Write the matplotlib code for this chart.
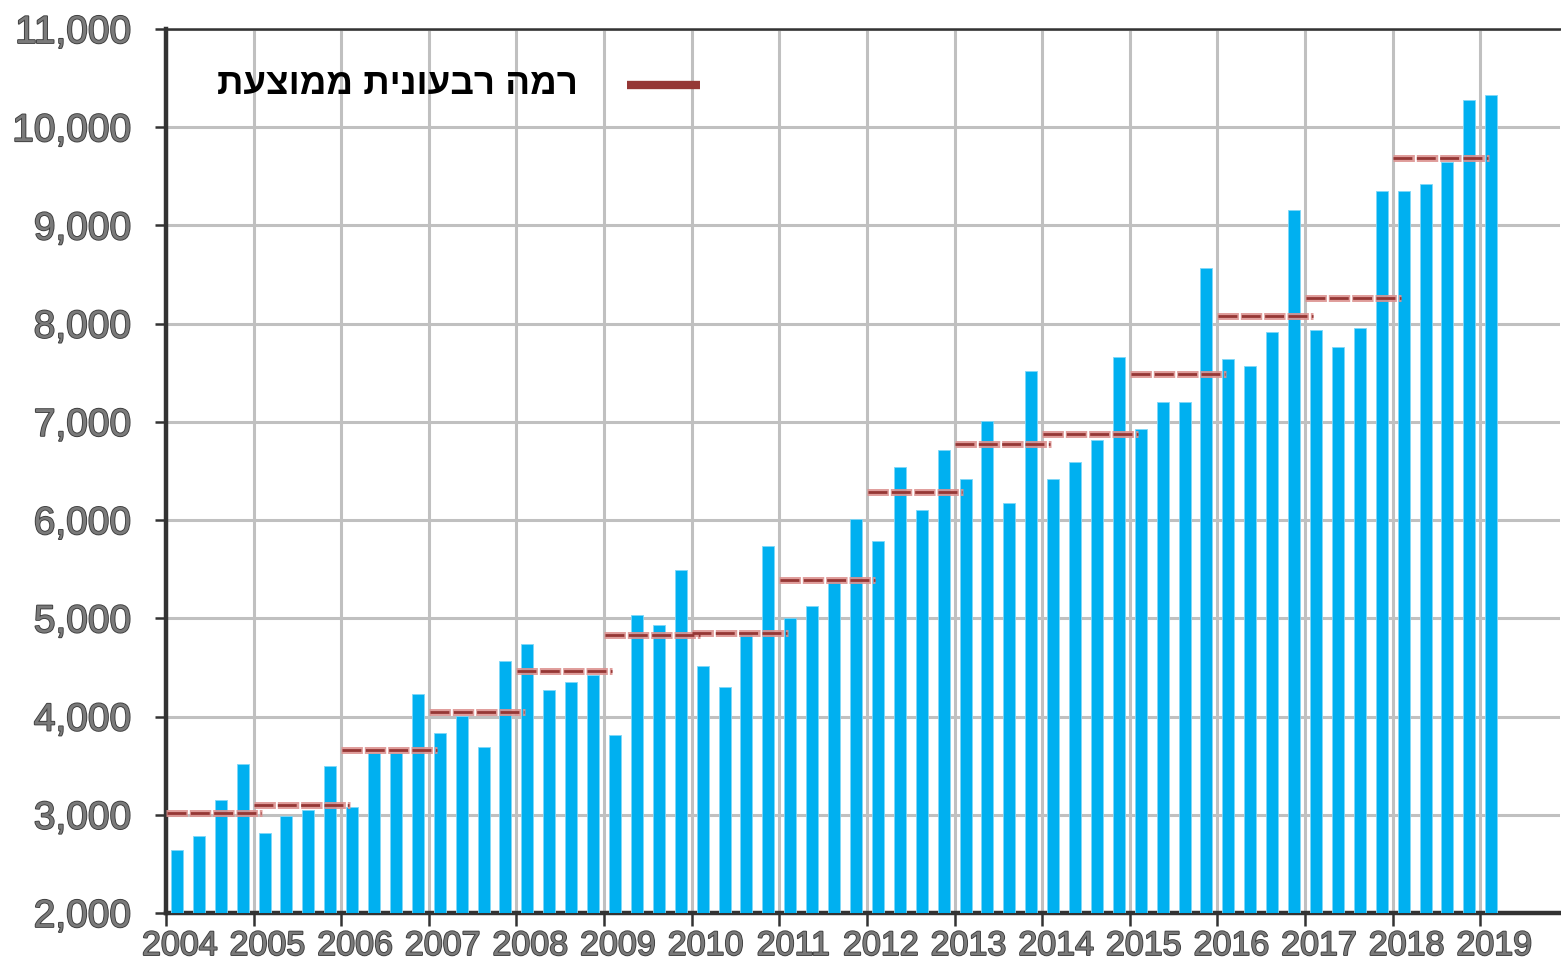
import numpy as np
import matplotlib
matplotlib.use("Agg")
import matplotlib.pyplot as plt
import matplotlib.patheffects as pe
import matplotlib.transforms as mtransforms
from matplotlib.ticker import FuncFormatter

plt.rcParams["font.family"] = ["Liberation Sans", "DejaVu Sans"]
plt.rcParams["lines.scale_dashes"] = False

# quarterly values, 2004Q1 .. 2019Q1
quarterly = [
    2641, 2786, 3154, 3520,   # 2004
    2811, 2985, 3052, 3494,   # 2005
    3079, 3630, 3630, 4227,   # 2006
    3836, 4009, 3686, 4566,   # 2007
    4736, 4273, 4348, 4424,   # 2008
    3813, 5032, 4933, 5496,   # 2009
    4519, 4301, 4840, 5737,   # 2010
    5008, 5130, 5380, 6008,   # 2011
    5788, 6545, 6104, 6715,   # 2012
    6423, 7010, 6178, 7519,   # 2013
    6423, 6593, 6813, 7665,   # 2014
    6932, 7199, 7199, 8568,   # 2015
    7641, 7566, 7910, 9155,   # 2016
    7937, 7764, 7960, 9352,   # 2017
    9352, 9424, 9644, 10279,  # 2018
    10328,                    # 2019
]
avg_years = list(range(2004, 2019))
avg_level = [3021, 3097, 3656, 4047, 4460, 4827, 4851, 5391,
             6290, 6776, 6878, 7486, 8074, 8265, 9682]
year_ticks = list(range(2004, 2020))
legend_label = "רמה רבעונית ממוצעת"

bar_color = "#00b0f0"
avg_color = "#953735"
txt_color = "#7a7a7a"
stroke = [pe.withStroke(linewidth=1.3, foreground="#3c3c3c")]

fig = plt.figure(figsize=(15.61, 9.6), dpi=100)
ax = fig.add_axes([0.1063, 0.049, 0.8931, 0.9208])

xpos = [2004 + (i // 4) + (i % 4 + 0.5) * 0.25 for i in range(len(quarterly))]
ax.bar(xpos, [v - 2000 for v in quarterly], bottom=2000, width=0.137,
       color=bar_color, edgecolor="#7fd7f7", linewidth=0.6, zorder=3)

for yr, lvl in zip(avg_years, avg_level):
    ax.plot([yr, yr + 1.096], [lvl, lvl], color="#dc9290", lw=5.0,
            linestyle=(0, (15.4, 1.4)), dash_capstyle="butt",
            alpha=0.9, zorder=4)
    ax.plot([yr + 0.008, yr + 1.09], [lvl, lvl], color=avg_color, lw=2.0,
            linestyle=(0, (13.6, 3.2)), dash_capstyle="butt", zorder=5)

ax.set_xlim(2004, 2019.91)
ax.set_ylim(2000, 11000)
ax.set_xticks(year_ticks)
ax.set_xticklabels([str(y) for y in year_ticks])
ax.set_yticks(range(2000, 11001, 1000))
ax.yaxis.set_major_formatter(FuncFormatter(lambda v, p: f"{int(v):,}"))

ax.grid(True, color="#c0c0c0", linewidth=2.2, zorder=0)
ax.set_axisbelow(True)

for side in ["left", "bottom"]:
    ax.spines[side].set_color("#333333")
    ax.spines[side].set_linewidth(3.2)
ax.spines["top"].set_color("#333333")
ax.spines["top"].set_linewidth(1.8)
ax.spines["right"].set_visible(False)

ax.tick_params(axis="y", length=8, width=1.8, color="#333333", pad=17,
               labelsize=28, labelcolor=txt_color)
ax.tick_params(axis="x", length=9, width=1.8, color="#333333", pad=4,
               labelsize=24.5, labelcolor=txt_color)

shift = mtransforms.ScaledTranslation(0.14, 0, fig.dpi_scale_trans)
for lab in ax.get_xticklabels():
    lab.set_transform(lab.get_transform() + shift)
for lab in ax.get_xticklabels() + ax.get_yticklabels():
    lab.set_path_effects(stroke)

# legend drawn by hand
ax.plot([0.331, 0.383], [0.937, 0.937], transform=ax.transAxes,
        color=avg_color, lw=6, solid_capstyle="butt", zorder=6)
ax.text(0.2956, 0.937, legend_label[::-1], transform=ax.transAxes,
        ha="right", va="center", fontsize=26.5, fontweight="bold",
        color="black", zorder=6)

fig.savefig("out.png", dpi=100)
